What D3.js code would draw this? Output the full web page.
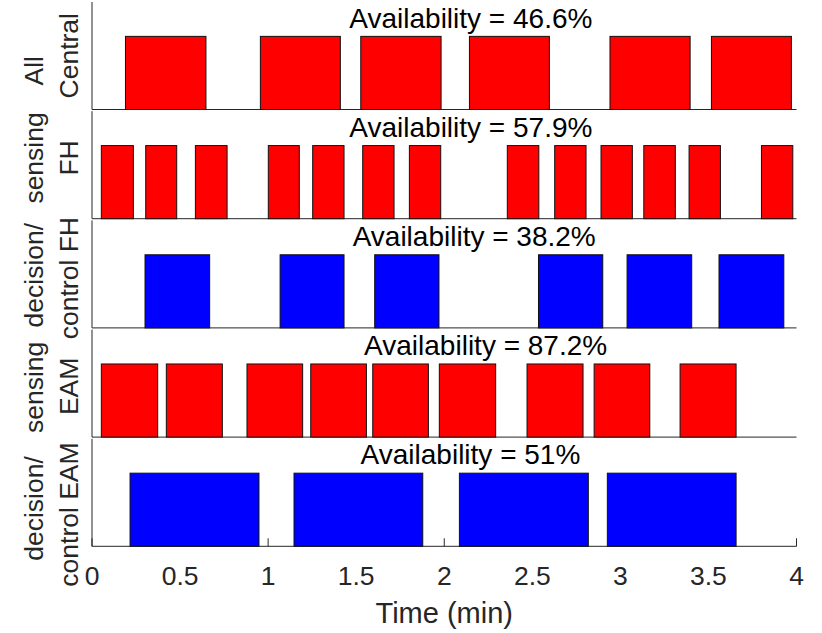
<!DOCTYPE html>
<html>
<head>
<meta charset="utf-8">
<script src="https://cdn.jsdelivr.net/npm/d3@7"></script>
<style>
  body { margin: 0; background: #fff; }
  svg { display: block; font-family: "Liberation Sans", Arial, Helvetica, sans-serif; }
</style>
</head>
<body>
<div id="chart"></div>
<script>
// on-intervals in minutes, [start, end]
const allCentral = [[0.19, 0.647], [0.956, 1.41], [1.526, 1.982], [2.143, 2.597], [2.941, 3.396], [3.517, 3.971]];
const sensingFH = [[0.053, 0.235], [0.305, 0.481], [0.587, 0.767], [1.001, 1.177], [1.253, 1.431], [1.537, 1.715],
  [1.802, 1.98], [2.358, 2.537], [2.627, 2.805], [2.89, 3.068], [3.133, 3.312], [3.39, 3.568], [3.801, 3.979]];
const decisionFH = [[0.301, 0.668], [1.068, 1.431], [1.605, 1.97], [2.535, 2.9], [3.038, 3.405], [3.56, 3.928]];
const sensingEAM = [[0.053, 0.373], [0.422, 0.74], [0.88, 1.196], [1.242, 1.558], [1.594, 1.91], [1.972, 2.292],
  [2.47, 2.788], [2.851, 3.167], [3.339, 3.657]];
const decisionEAM = [[0.216, 0.948], [1.147, 1.878], [2.086, 2.818], [2.926, 3.657]];

const series = [allCentral, sensingFH, decisionFH, sensingEAM, decisionEAM];
const seriesColors = ["#ff0000", "#ff0000", "#0000ff", "#ff0000", "#0000ff"];
const availability = ["46.6%", "57.9%", "38.2%", "87.2%", "51%"];
const availabilityAt = [1.461, 1.461, 1.48, 1.545, 1.525]; // left edge of label, minutes
const yLabels = [["All", "Central"], ["sensing", "FH"], ["decision/", "control FH"], ["sensing", "EAM"], ["decision/", "control EAM"]];
const xTicks = [0, 0.5, 1, 1.5, 2, 2.5, 3, 3.5, 4];
const xTickLabels = ["0", "0.5", "1", "1.5", "2", "2.5", "3", "3.5", "4"];

const width = 822, height = 633;
const left = 92, right = 796.5;
const panelTop0 = 2, panelStep = 109.2, panelH = 107.5;
// small vertical nudges of the two ylabel lines, per panel (px)
const labelShift = [[15, 0], [-7, -7], [1, 4], [4, 3], [16, 22]];
const axisColor = "#262626";

const svg = d3.select("#chart").append("svg")
  .attr("width", width)
  .attr("height", height);

const x = d3.scaleLinear().domain([0, 4]).range([left, right]);

series.forEach((bars, i) => {
  const top = panelTop0 + i * panelStep;
  const y = d3.scaleLinear().domain([0, 1.47]).range([top + panelH, top]);
  const g = svg.append("g");
  const last = i === series.length - 1;

  // axes first so bars hide ticks
  g.append("line")
    .attr("x1", left).attr("x2", right)
    .attr("y1", y(0)).attr("y2", y(0))
    .attr("stroke", axisColor).attr("stroke-width", 1);
  g.append("line")
    .attr("x1", left).attr("x2", left)
    .attr("y1", y(1.47)).attr("y2", y(0))
    .attr("stroke", axisColor).attr("stroke-width", 1);

  if (last) {
    g.selectAll(".tick")
      .data(xTicks)
      .enter().append("line")
      .attr("class", "tick")
      .attr("x1", d => x(d)).attr("x2", d => x(d))
      .attr("y1", y(0)).attr("y2", y(0) - 8)
      .attr("stroke", axisColor).attr("stroke-width", 1);
  }

  g.selectAll(".bar")
    .data(bars)
    .enter().append("rect")
    .attr("class", "bar")
    .attr("x", d => x(d[0]))
    .attr("y", y(1))
    .attr("width", d => x(d[1]) - x(d[0]))
    .attr("height", y(0) - y(1))
    .attr("fill", seriesColors[i])
    .attr("stroke", "#111")
    .attr("stroke-width", 1);

  g.append("text")
    .attr("x", x(availabilityAt[i]))
    .attr("y", y(1.12))
    .attr("font-size", 28)
    .attr("fill", "#000")
    .text(`Availability = ${availability[i]}`);

  const mid = top + panelH / 2;
  const lines = yLabels[i];
  [42.5, 77.5].forEach((bx, k) => {
    const cy = mid + labelShift[i][k];
    g.append("text")
      .attr("transform", `translate(${bx},${cy}) rotate(-90)`)
      .attr("text-anchor", "middle")
      .attr("font-size", 26.5)
      .attr("fill", axisColor)
      .text(lines[k]);
  });
});

svg.selectAll(".xlabel")
  .data(xTicks)
  .enter().append("text")
  .attr("class", "xlabel")
  .attr("x", d => x(d))
  .attr("y", 585)
  .attr("text-anchor", "middle")
  .attr("font-size", 26.5)
  .attr("fill", axisColor)
  .text((d, i) => xTickLabels[i]);

svg.append("text")
  .attr("x", (left + right) / 2)
  .attr("y", 622.5)
  .attr("text-anchor", "middle")
  .attr("font-size", 29)
  .attr("fill", axisColor)
  .text("Time (min)");
</script>
</body>
</html>
